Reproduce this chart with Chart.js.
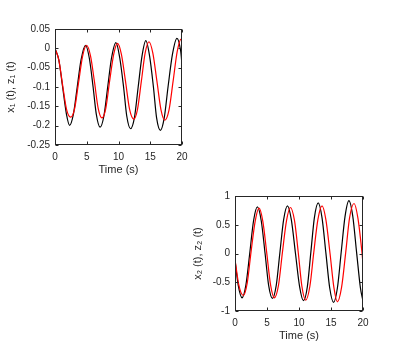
<!DOCTYPE html>
<html>
<head>
<meta charset="utf-8">
<script src="https://cdn.jsdelivr.net/npm/chart.js@4.4.0/dist/chart.umd.min.js"></script>
<style>
  html, body { margin: 0; padding: 0; background: #fff; width: 400px; height: 349px; overflow: hidden; }
  canvas { position: absolute; }
</style>
</head>
<body>
<canvas id="plot1" width="200" height="185" style="left:0px;top:0px"></canvas>
<canvas id="plot2" width="200" height="185" style="left:180px;top:164px"></canvas>
<script>
// Données (temps en s)
const xTicks = [0, 5, 10, 15, 20];

// x1(t) - noir
const tX1 = [0, 0.6, 1.2, 1.8, 2.3, 2.9, 3.5, 4.1, 4.8, 5.4, 6.0, 6.5, 7.1, 7.7, 8.3, 8.9, 9.6,
  10.2, 10.8, 11.3, 11.9, 12.5, 13.1, 13.7, 14.3, 14.9, 15.5, 16.0, 16.6, 17.2, 17.8, 18.5, 19.2, 19.8, 20];
const x1 = [0, -0.03, -0.10, -0.17, -0.199, -0.17, -0.10, -0.03, 0.008, -0.025, -0.10, -0.17, -0.204,
  -0.175, -0.10, -0.025, 0.015, -0.025, -0.10, -0.175, -0.208, -0.18, -0.10, -0.02, 0.02, -0.02,
  -0.10, -0.18, -0.212, -0.18, -0.10, -0.015, 0.026, -0.008, -0.042];

// z1(t) - rouge
const tZ1 = [0, 0.6, 1.2, 1.85, 2.46, 3.1, 3.7, 4.35, 4.97, 5.6, 6.2, 6.8, 7.4, 8.0, 8.6, 9.25, 9.85,
  10.45, 11.1, 11.75, 12.4, 13.0, 13.6, 14.2, 14.8, 15.4, 16.05, 16.7, 17.3, 17.95, 18.6, 19.25, 19.85, 20];
const z1 = [0, -0.03, -0.095, -0.16, -0.178, -0.155, -0.09, -0.02, 0.008, -0.02, -0.085, -0.155, -0.18,
  -0.155, -0.085, -0.015, 0.013, -0.015, -0.085, -0.158, -0.183, -0.157, -0.085, -0.012, 0.017, -0.012,
  -0.085, -0.16, -0.186, -0.16, -0.085, -0.008, 0.024, 0.022];

// x2(t) - noir
const tX2 = [0, 0.5, 1.1, 1.7, 2.3, 2.9, 3.5, 4.1, 4.7, 5.25, 5.85, 6.45, 7.0, 7.6, 8.2, 8.8, 9.45,
  10.1, 10.7, 11.3, 11.85, 12.4, 13.0, 13.6, 14.2, 14.8, 15.4, 16.0, 16.6, 17.2, 17.8, 18.4, 19.0, 19.6, 20];
const x2 = [-0.12, -0.55, -0.77, -0.55, 0.0, 0.57, 0.81, 0.57, 0.0, -0.55, -0.78, -0.55, 0.0, 0.59, 0.83,
  0.59, 0.0, -0.58, -0.82, -0.58, 0.02, 0.62, 0.88, 0.62, 0.01, -0.6, -0.85, -0.6, 0.03, 0.65, 0.92,
  0.65, 0.02, -0.6, -0.83];

// z2(t) - rouge
const tZ2 = [0, 0.6, 1.3, 1.9, 2.5, 3.15, 3.75, 4.35, 4.95, 5.55, 6.15, 6.8, 7.4, 8.05, 8.65, 9.3, 9.9,
  10.45, 11.05, 11.7, 12.3, 12.95, 13.6, 14.2, 14.85, 15.45, 16.0, 16.65, 17.3, 17.9, 18.6, 19.2, 19.8, 20];
const z2 = [-0.1, -0.55, -0.73, -0.52, 0.02, 0.56, 0.79, 0.56, 0.02, -0.54, -0.77, -0.55, 0.01, 0.57, 0.8,
  0.57, 0.0, -0.57, -0.81, -0.57, 0.01, 0.59, 0.83, 0.59, 0.0, -0.59, -0.84, -0.59, 0.02, 0.62, 0.87,
  0.62, 0.06, -0.18];

const axisColor = '#262626';
const fontFamily = '"Liberation Sans", Arial, sans-serif';

// Cadre type Octave avec graduations vers l'intérieur
const boxPlugin = {
  id: 'octaveBox',
  afterDatasetsDraw(chart) {
    const ctx = chart.ctx;
    const a = chart.chartArea;
    const sx = chart.scales.x, sy = chart.scales.y;
    const L = Math.round(a.left) + 0.5, R = Math.round(a.right) - 0.5;
    const T = Math.round(a.top) + 0.5, B = Math.round(a.bottom) - 0.5;
    ctx.save();
    ctx.strokeStyle = axisColor;
    ctx.lineWidth = 1;
    ctx.strokeRect(L, T, R - L, B - T);
    ctx.beginPath();
    sx.ticks.forEach(tk => {
      const px = Math.round(sx.getPixelForValue(tk.value)) + 0.5;
      ctx.moveTo(px, B); ctx.lineTo(px, B - 3);
      ctx.moveTo(px, T); ctx.lineTo(px, T + 3);
    });
    sy.ticks.forEach(tk => {
      const py = Math.round(sy.getPixelForValue(tk.value)) + 0.5;
      ctx.moveTo(L, py); ctx.lineTo(L + 3, py);
      ctx.moveTo(R, py); ctx.lineTo(R - 3, py);
    });
    ctx.stroke();
    ctx.restore();
  }
};

function toPoints(ts, vs) {
  return ts.map((t, i) => ({ x: t, y: vs[i] }));
}

function createPlot(id, blackT, black, redT, red, yMin, yMax, yStep, yTitle, pad) {
  const ctx = document.getElementById(id).getContext('2d');
  return new Chart(ctx, {
    type: 'line',
    data: {
      datasets: [{
        data: toPoints(blackT, black),
        borderColor: '#000000',
        borderWidth: 1.2,
        pointRadius: 0,
        cubicInterpolationMode: 'monotone',
        order: 1
      }, {
        data: toPoints(redT, red),
        borderColor: '#ff0000',
        borderWidth: 1.2,
        pointRadius: 0,
        cubicInterpolationMode: 'monotone',
        order: 0
      }]
    },
    options: {
      responsive: false,
      animation: false,
      events: [],
      layout: { padding: { left: 0, right: pad.right, top: pad.top, bottom: 0 } },
      plugins: { legend: { display: false }, tooltip: { enabled: false } },
      scales: {
        x: {
          type: 'linear',
          min: 0, max: 20,
          afterBuildTicks: s => { s.ticks = xTicks.map(v => ({ value: v })); },
          afterFit: s => { s.height = pad.xHeight; },
          grid: { display: false, drawTicks: false },
          border: { display: false },
          ticks: { color: axisColor, padding: pad.xTickPad, maxRotation: 0, font: { family: fontFamily, size: 10 } },
          title: { display: true, text: 'Time (s)', color: axisColor,
                   padding: { top: 0, bottom: pad.xTitlePad }, font: { family: fontFamily, size: 11 } }
        },
        y: {
          type: 'linear',
          min: yMin, max: yMax,
          ticks: {
            stepSize: yStep, color: axisColor, padding: 5,
            font: { family: fontFamily, size: 10 },
            callback: v => String(Number(v.toFixed(2)))
          },
          afterFit: s => { s.width = 55; },
          grid: { display: false, drawTicks: false },
          border: { display: false },
          title: { display: true, text: yTitle, color: axisColor,
                   padding: { top: pad.yTitlePad, bottom: 0 }, font: { family: fontFamily, size: 11 } }
        }
      }
    },
    plugins: [boxPlugin]
  });
}

createPlot('plot1', tX1, x1, tZ1, z1, -0.25, 0.05, 0.05, 'x\u2081 (t), z\u2081 (t)',
  { right: 18, top: 29, xHeight: 40, xTickPad: 6, xTitlePad: 8, yTitlePad: 4 });
createPlot('plot2', tX2, x2, tZ2, z2, -1, 1, 0.5, 'x\u2082 (t), z\u2082 (t)',
  { right: 17, top: 32, xHeight: 38, xTickPad: 6, xTitlePad: 6, yTitlePad: 11 });
</script>
</body>
</html>
